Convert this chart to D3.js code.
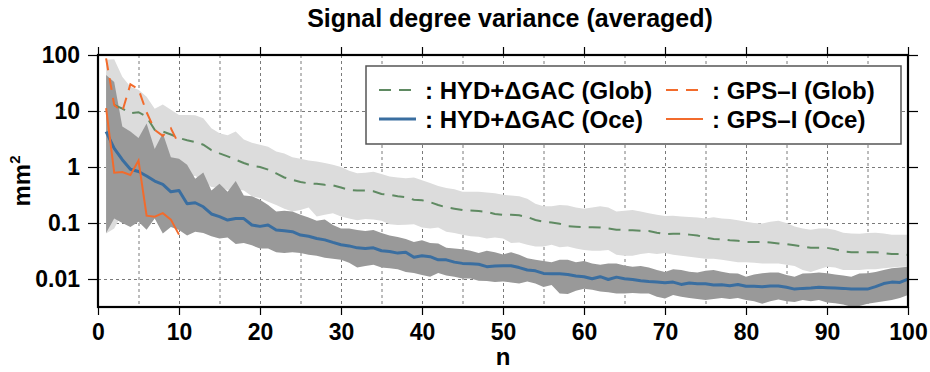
<!DOCTYPE html>
<html>
<head>
<meta charset="utf-8">
<script src="https://cdn.jsdelivr.net/npm/d3@7"></script>
<style>
body { margin: 0; background: #fff; }
text { font-family: "Liberation Sans", Arial, Helvetica, sans-serif; font-weight: bold; fill: #000; }
</style>
</head>
<body>
<svg id="chart" width="930" height="372"></svg>
<script>
// degree n = 1..100
var degrees = d3.range(1, 101);

// HYD+dGAC global: mean and spread
var globMean = [null, 12.8, 11.0, 9.1, 9.5, 7.9, 4.6, 4.3, 3.8, 3.3,
  3.0, 2.8, 2.5, 2.0, 1.75, 1.55, 1.35, 1.18, 1.05, 1.0,
  0.9, 0.77, 0.65, 0.59, 0.54, 0.51, 0.5, 0.48, 0.47, 0.43,
  0.39, 0.38, 0.38, 0.37, 0.33, 0.32, 0.30, 0.29, 0.26, 0.255,
  0.235, 0.21, 0.19, 0.18, 0.17, 0.168, 0.163, 0.158, 0.145, 0.14,
  0.14, 0.137, 0.128, 0.113, 0.106, 0.102, 0.097, 0.088, 0.086, 0.084,
  0.084, 0.083, 0.08, 0.076, 0.075, 0.074, 0.073, 0.072, 0.067, 0.063,
  0.064, 0.064, 0.062, 0.06, 0.055, 0.052, 0.051, 0.049, 0.048, 0.046,
  0.046, 0.046, 0.045, 0.043, 0.042, 0.04, 0.038, 0.036, 0.036, 0.036,
  0.034, 0.031, 0.030, 0.030, 0.030, 0.030, 0.029, 0.028, 0.028, 0.027];
var globHigh = [82, 84, 41, 27, 24, 18, 11, 13, 10.5, 8.5,
  8.5, 8.4, 7.4, 4.9, 4.0, 3.7, 4.3, 3.1, 2.7, 2.5,
  2.3, 1.9, 1.75, 1.5, 1.4, 1.3, 1.25, 1.18, 1.1, 1.0,
  0.86, 0.77, 0.79, 0.82, 0.75, 0.68, 0.65, 0.63, 0.65, 0.58,
  0.52, 0.46, 0.42, 0.4, 0.36, 0.36, 0.36, 0.35, 0.34, 0.32,
  0.31, 0.3, 0.27, 0.22, 0.2, 0.2, 0.21, 0.205, 0.19, 0.18,
  0.19, 0.2, 0.19, 0.16, 0.165, 0.17, 0.16, 0.15, 0.14, 0.133,
  0.135, 0.13, 0.128, 0.125, 0.12, 0.127, 0.12, 0.118, 0.112, 0.105,
  0.1, 0.098, 0.105, 0.11, 0.1, 0.087, 0.08, 0.076, 0.08, 0.08,
  0.075, 0.067, 0.065, 0.064, 0.066, 0.067, 0.065, 0.062, 0.062, 0.062];
var globLow = [0.065, 0.08, 0.15, 0.2, 0.25, 0.3, 0.35, 0.45, 0.5, 0.6,
  0.65, 0.7, 0.55, 0.44, 0.42, 0.39, 0.4, 0.38, 0.3, 0.28,
  0.24, 0.21, 0.18, 0.16, 0.17, 0.19, 0.13, 0.14, 0.15, 0.13,
  0.12, 0.112, 0.118, 0.115, 0.11, 0.095, 0.092, 0.093, 0.095, 0.083,
  0.08, 0.083, 0.07, 0.066, 0.062, 0.058, 0.057, 0.053, 0.055, 0.053,
  0.044, 0.045, 0.041, 0.038, 0.038, 0.041, 0.037, 0.038, 0.035, 0.033,
  0.032, 0.032, 0.033, 0.027, 0.026, 0.026, 0.028, 0.029, 0.028, 0.029,
  0.027, 0.026, 0.025, 0.024, 0.023, 0.023, 0.022, 0.021, 0.02, 0.02,
  0.0195, 0.019, 0.019, 0.019, 0.018, 0.017, 0.0145, 0.0134, 0.015, 0.0165,
  0.016, 0.0145, 0.0145, 0.0145, 0.015, 0.015, 0.0155, 0.016, 0.0165, 0.0165];

// HYD+dGAC ocean: mean and spread
var oceMean = [4.3, 2.15, 1.35, 0.91, 0.83, 0.69, 0.56, 0.49, 0.36, 0.38,
  0.22, 0.23, 0.195, 0.145, 0.13, 0.113, 0.12, 0.12, 0.092, 0.087,
  0.092, 0.075, 0.073, 0.07, 0.061, 0.058, 0.053, 0.05, 0.045, 0.041,
  0.039, 0.036, 0.035, 0.036, 0.032, 0.031, 0.029, 0.030, 0.0245, 0.026,
  0.025, 0.022, 0.022, 0.020, 0.019, 0.0188, 0.0183, 0.0166, 0.017, 0.0172,
  0.0172, 0.016, 0.0145, 0.014, 0.0126, 0.0124, 0.0124, 0.012, 0.0113, 0.011,
  0.0101, 0.011, 0.0098, 0.0108, 0.0101, 0.0098, 0.0093, 0.009, 0.0088, 0.0086,
  0.0088, 0.008, 0.0085, 0.0082, 0.0082, 0.0078, 0.0079, 0.0076, 0.008, 0.0074,
  0.0074, 0.0073, 0.0075, 0.0075, 0.0071, 0.0066, 0.0068, 0.0069, 0.0071, 0.007,
  0.0069, 0.0068, 0.0066, 0.0066, 0.0066, 0.0073, 0.0083, 0.0088, 0.0087, 0.0099];
var oceHigh = [44, 33, 5.3, 4.3, 3.3, 6.0, 2.1, 4.0, 1.5, 1.4,
  1.1, 0.62, 0.8, 0.38, 0.5, 0.36, 0.56, 0.31, 0.3, 0.26,
  0.21, 0.16, 0.165, 0.16, 0.14, 0.125, 0.11, 0.115, 0.092, 0.08,
  0.08, 0.075, 0.072, 0.075, 0.066, 0.06, 0.056, 0.052, 0.046, 0.049,
  0.044, 0.043, 0.036, 0.035, 0.034, 0.032, 0.029, 0.032, 0.03, 0.0275,
  0.03, 0.027, 0.0235, 0.022, 0.021, 0.02, 0.022, 0.022, 0.02, 0.021,
  0.019, 0.018, 0.019, 0.019, 0.0175, 0.0165, 0.017, 0.016, 0.0145, 0.0134,
  0.015, 0.0145, 0.0135, 0.013, 0.014, 0.0145, 0.0135, 0.0127, 0.0125, 0.011,
  0.012, 0.0127, 0.013, 0.013, 0.0118, 0.011, 0.0125, 0.0127, 0.013, 0.0127,
  0.012, 0.0115, 0.011, 0.0125, 0.0127, 0.0134, 0.0145, 0.0155, 0.016, 0.0165];
var oceLow = [0.066, 0.12, 0.1, 0.085, 0.105, 0.076, 0.12, 0.065, 0.085, 0.075,
  0.06, 0.07, 0.066, 0.058, 0.053, 0.055, 0.042, 0.044, 0.04, 0.035,
  0.035, 0.03, 0.029, 0.03, 0.029, 0.027, 0.026, 0.024, 0.023, 0.022,
  0.0195, 0.016, 0.017, 0.018, 0.016, 0.0155, 0.015, 0.0134, 0.0128, 0.0118,
  0.011, 0.0128, 0.0115, 0.011, 0.0102, 0.0102, 0.0093, 0.0092, 0.0088, 0.009,
  0.0087, 0.0083, 0.009, 0.0083, 0.0072, 0.0078, 0.0055, 0.0054, 0.0062, 0.0067,
  0.0064, 0.006, 0.0058, 0.0055, 0.0055, 0.0056, 0.0055, 0.0055, 0.0048, 0.0045,
  0.0052, 0.0048, 0.0046, 0.0044, 0.0042, 0.0044, 0.0046, 0.0044, 0.0046, 0.0042,
  0.004, 0.0036, 0.004, 0.0043, 0.004, 0.0039, 0.0042, 0.004, 0.0042, 0.0038,
  0.0037, 0.0035, 0.0032, 0.0033, 0.0036, 0.0038, 0.004, 0.0042, 0.0046, 0.0052];

// GPS-I, degrees 1..10
var gpsDegrees = d3.range(1, 11);
var gpsGlob = [87, 12.8, 9.8, 30, 24.5, 9.5, 4.6, 3.6, 4.9, 2.5];
var gpsOce = [11.2, 0.79, 0.81, 0.72, 1.3, 0.135, 0.13, 0.15, 0.115, 0.062];

var xTicks = d3.range(0, 101, 10);
var yTicks = [0.01, 0.1, 1, 10, 100];
var yTickLabels = ["0.01", "0.1", "1", "10", "100"];

var legendItems = [
  { label: ": HYD+\u0394GAC (Glob)", color: "#5f8a62", dash: "12,8", w: 2 },
  { label: ": GPS\u2013I (Glob)", color: "#f26b2c", dash: "12,8", w: 2 },
  { label: ": HYD+\u0394GAC (Oce)", color: "#3a6ea0", dash: null, w: 3 },
  { label: ": GPS\u2013I (Oce)", color: "#f26b2c", dash: null, w: 2 }
];

var margin = { left: 98, right: 22, top: 55, bottom: 65 };
var width = 930 - margin.left - margin.right;
var height = 372 - margin.top - margin.bottom;

var svg = d3.select("#chart");
var g = svg.append("g").attr("transform", "translate(" + margin.left + "," + margin.top + ")");

var x = d3.scaleLinear().domain([0, 100]).range([0, width]);
var y = d3.scaleLog().domain([Math.pow(10, -2.5), 100]).range([height, 0]);

g.append("clipPath").attr("id", "plotclip")
  .append("rect").attr("width", width).attr("height", height);

// dashed grid under the bands
g.append("g").attr("class", "grid")
  .call(d3.axisBottom(x).tickValues(d3.range(5, 100, 5)).tickSize(height).tickFormat(""));
g.append("g").attr("class", "grid")
  .call(d3.axisLeft(y).tickValues([0.01, 0.1, 1, 10]).tickSize(-width).tickFormat(""));
g.selectAll(".grid .domain").remove();
g.selectAll(".grid line")
  .attr("stroke", "#7a7a7a").attr("stroke-width", 1).attr("stroke-dasharray", "3,3");

var plot = g.append("g").attr("clip-path", "url(#plotclip)");

var band = function(lo, hi) {
  return d3.area()
    .x(function(n) { return x(n); })
    .y0(function(n, i) { return y(lo[i]); })
    .y1(function(n, i) { return y(hi[i]); });
};

plot.append("path").datum(degrees).attr("fill", "#dcdcdc").attr("d", band(globLow, globHigh));
plot.append("path").datum(degrees).attr("fill", "#999999").attr("d", band(oceLow, oceHigh));

var lineOf = function(vals) {
  return d3.line()
    .defined(function(n, i) { return vals[i] != null; })
    .x(function(n) { return x(n); })
    .y(function(n, i) { return y(vals[i]); });
};

plot.append("path").datum(degrees).attr("fill", "none")
  .attr("stroke", legendItems[0].color).attr("stroke-width", 2).attr("stroke-dasharray", "12,8")
  .attr("d", lineOf(globMean));
plot.append("path").datum(degrees).attr("fill", "none")
  .attr("stroke", legendItems[2].color).attr("stroke-width", 3).attr("stroke-linejoin", "round")
  .attr("d", lineOf(oceMean));
plot.append("path").datum(gpsDegrees).attr("fill", "none")
  .attr("stroke", legendItems[1].color).attr("stroke-width", 2).attr("stroke-dasharray", "12,8")
  .attr("d", lineOf(gpsGlob));
plot.append("path").datum(gpsDegrees).attr("fill", "none")
  .attr("stroke", legendItems[3].color).attr("stroke-width", 2)
  .attr("d", lineOf(gpsOce));

// axes
g.append("g").attr("transform", "translate(0," + height + ")")
  .call(d3.axisBottom(x).tickValues(xTicks).tickSize(8).tickPadding(9));
g.append("g")
  .call(d3.axisTop(x).tickValues(xTicks).tickSize(8).tickFormat(""));
g.append("g")
  .call(d3.axisLeft(y).tickValues(yTicks).tickSize(10).tickPadding(8)
    .tickFormat(function(d, i) { return yTickLabels[i]; }));
g.append("g").attr("transform", "translate(" + width + ",0)")
  .call(d3.axisRight(y).tickValues(yTicks).tickSize(10).tickFormat(""));

g.selectAll(".domain").attr("stroke", "none");
g.selectAll(".tick line").filter(function() { return !this.closest(".grid"); })
  .attr("stroke", "#000").attr("stroke-width", 1.2);
g.selectAll(".tick text").attr("font-size", 23).attr("font-family", null).attr("fill", "#000");

// frame
g.append("rect").attr("width", width).attr("height", height)
  .attr("fill", "none").attr("stroke", "#000").attr("stroke-width", 2.2);

// legend
var legend = svg.append("g").attr("transform", "translate(366,66)");
legend.append("rect").attr("width", 535).attr("height", 78)
  .attr("fill", "#fff").attr("stroke", "#555").attr("stroke-width", 1.5);
var item = legend.selectAll(".item").data(legendItems).enter().append("g")
  .attr("transform", function(d, i) { return "translate(" + (i % 2 ? 300 : 13) + "," + (i < 2 ? 24 : 53) + ")"; });
item.append("line").attr("x1", 0).attr("x2", 37)
  .attr("stroke", function(d) { return d.color; })
  .attr("stroke-width", function(d) { return d.w; })
  .attr("stroke-dasharray", function(d) { return d.dash; });
item.append("text").attr("x", 46).attr("dy", "0.36em").attr("font-size", 24)
  .text(function(d) { return d.label; });

// titles
svg.append("text").attr("x", 510).attr("y", 27).attr("text-anchor", "middle")
  .attr("font-size", 25).text("Signal degree variance (averaged)");
svg.append("text").attr("x", margin.left + width / 2).attr("y", 365).attr("text-anchor", "middle")
  .attr("font-size", 24).text("n");
var yl = svg.append("text").attr("transform", "translate(30," + (margin.top + height / 2) + ") rotate(-90)")
  .attr("text-anchor", "middle").attr("font-size", 24);
yl.append("tspan").text("mm");
yl.append("tspan").attr("dy", -10).attr("font-size", 15).text("2");
</script>
</body>
</html>
